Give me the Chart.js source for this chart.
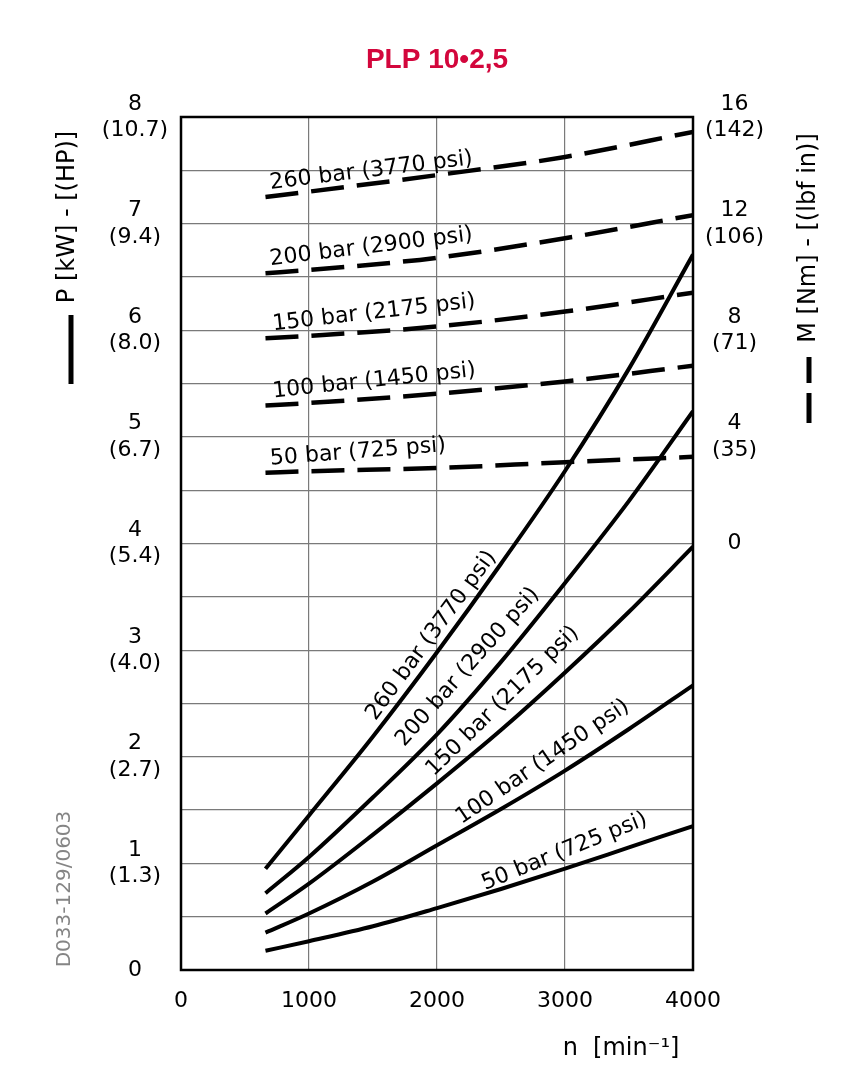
<!DOCTYPE html>
<html>
<head>
<meta charset="utf-8">
<script src="https://cdn.jsdelivr.net/npm/chart.js@4.4.1/dist/chart.umd.min.js"></script>
<style>
  html, body { margin: 0; padding: 0; background: #fff; }
  #wrap { position: relative; width: 849px; height: 1080px; }
</style>
</head>
<body>
<div id="wrap"><canvas id="c" width="849" height="1080"></canvas></div>
<script>
// ---------- DATA ----------
const chartTitle = 'PLP 10•2,5';
const pressureLabels = ['50 bar (725 psi)', '100 bar (1450 psi)', '150 bar (2175 psi)', '200 bar (2900 psi)', '260 bar (3770 psi)'];

// power curves (solid) – speed [min-1] vs power [kW]
const speedPower = [660, 1000, 1500, 2000, 2500, 3000, 3500, 4000];
const power50  = [0.18, 0.27, 0.41, 0.58, 0.76, 0.95, 1.15, 1.35];
const power100 = [0.35, 0.53, 0.83, 1.17, 1.51, 1.87, 2.26, 2.67];
const power150 = [0.53, 0.81, 1.27, 1.75, 2.25, 2.79, 3.36, 3.97];
const power200 = [0.72, 1.06, 1.62, 2.21, 2.89, 3.63, 4.40, 5.24];
const power260 = [0.95, 1.45, 2.19, 2.98, 3.81, 4.68, 5.64, 6.71];

// torque curves (dashed) – speed [min-1] vs torque [Nm]
const speedTorque = [660, 1000, 2000, 3000, 4000];
const torque50  = [2.65, 2.71, 2.83, 3.05, 3.25];
const torque100 = [5.18, 5.27, 5.62, 6.08, 6.67];
const torque150 = [7.70, 7.79, 8.14, 8.70, 9.41];
const torque200 = [10.14, 10.26, 10.72, 11.45, 12.32];
const torque260 = [13.00, 13.20, 13.82, 14.50, 15.44];

// tick labels
const speedTicks = [0, 1000, 2000, 3000, 4000];
const powerTicksKW = [0, 1, 2, 3, 4, 5, 6, 7, 8];
const powerTicksHP = ['', '(1.3)', '(2.7)', '(4.0)', '(5.4)', '(6.7)', '(8.0)', '(9.4)', '(10.7)'];
const torqueTicksNm = [0, 4, 8, 12, 16];
const torqueTicksLbfIn = ['', '(35)', '(71)', '(106)', '(142)'];

const powerSeries = [power50, power100, power150, power200, power260];
const torqueSeries = [torque50, torque100, torque150, torque200, torque260];

// ---------- LABEL PLACEMENT (data units + angle) ----------
const solidLabelPlace = [
  { x: 2997, y: 1.11, a: -22 },
  { x: 2826, y: 1.95, a: -34.3 },
  { x: 2513, y: 2.52, a: -44.4 },
  { x: 2240, y: 2.84, a: -48.4 },
  { x: 1956, y: 3.135, a: -53.6 }
];
const dashedLabelPlace = [
  { x: 700, a: -4.5 },
  { x: 720, a: -6 },
  { x: 720, a: -6.5 },
  { x: 700, a: -7 },
  { x: 700, a: -7 }
];

const FONT = '"DejaVu Sans", "Liberation Sans", sans-serif';

const datasets = [];
powerSeries.forEach((s, i) => {
  datasets.push({
    label: pressureLabels[i] + ' P',
    data: speedPower.map((n, k) => ({ x: n, y: s[k] })),
    yAxisID: 'y',
    borderColor: '#000',
    borderWidth: 4,
    pointRadius: 0,
    cubicInterpolationMode: 'monotone',
    fill: false
  });
});
torqueSeries.forEach((s, i) => {
  datasets.push({
    label: pressureLabels[i] + ' M',
    data: speedTorque.map((n, k) => ({ x: n, y: s[k] })),
    yAxisID: 'y1',
    borderColor: '#000',
    borderWidth: 4.5,
    borderDash: [33, 13],
    borderCapStyle: 'butt',
    pointRadius: 0,
    cubicInterpolationMode: 'monotone',
    fill: false
  });
});

const decor = {
  id: 'decor',
  afterDatasetsDraw(chart) {
    const { ctx, chartArea: ca, scales } = chart;
    const xs = scales.x, yp = scales.y, yt = scales.y1;
    ctx.save();
    // frame
    ctx.strokeStyle = '#000';
    ctx.lineWidth = 2.5;
    ctx.strokeRect(ca.left, ca.top, ca.right - ca.left, ca.bottom - ca.top);

    ctx.fillStyle = '#000';
    ctx.font = '22px ' + FONT;
    // solid curve labels
    ctx.textAlign = 'center';
    ctx.textBaseline = 'middle';
    solidLabelPlace.forEach((p, i) => {
      ctx.save();
      ctx.translate(xs.getPixelForValue(p.x), yp.getPixelForValue(p.y));
      ctx.rotate(p.a * Math.PI / 180);
      ctx.fillText(pressureLabels[i], 0, 0);
      ctx.restore();
    });
    // dashed curve labels
    ctx.textAlign = 'left';
    ctx.textBaseline = 'alphabetic';
    dashedLabelPlace.forEach((p, i) => {
      ctx.save();
      ctx.translate(xs.getPixelForValue(p.x), yt.getPixelForValue(torqueSeries[i][0]) - 8);
      ctx.rotate(p.a * Math.PI / 180);
      ctx.fillText(pressureLabels[i], 0, 0);
      ctx.restore();
    });
    ctx.restore();
  },
  afterDraw(chart) {
    const { ctx, chartArea: ca } = chart;
    ctx.save();
    // main title
    ctx.font = 'bold 28px "Liberation Sans", Arial, sans-serif';
    ctx.fillStyle = '#d3063c';
    ctx.textAlign = 'center';
    ctx.textBaseline = 'middle';
    ctx.fillText(chartTitle, (ca.left + ca.right) / 2, ca.top - 57);

    ctx.fillStyle = '#000';
    ctx.font = '24px ' + FONT;
    // left axis title
    ctx.save();
    ctx.translate(68, ca.top + 100);
    ctx.rotate(-Math.PI / 2);
    ctx.fillText('P [kW] - [(HP)]', 0, 0);
    ctx.restore();
    // right axis title
    ctx.save();
    ctx.translate(809, ca.top + 121);
    ctx.rotate(-Math.PI / 2);
    ctx.fillText('M [Nm] - [(lbf in)]', 0, 0);
    ctx.restore();
    // legend markers
    ctx.strokeStyle = '#000';
    ctx.lineWidth = 5;
    ctx.beginPath();
    ctx.moveTo(71, ca.top + 198); ctx.lineTo(71, ca.top + 267);
    ctx.moveTo(809, ca.top + 240); ctx.lineTo(809, ca.top + 266);
    ctx.moveTo(809, ca.top + 276); ctx.lineTo(809, ca.top + 306);
    ctx.stroke();
    // x axis title
    ctx.font = '24px ' + FONT;
    ctx.fillText('n  [min\u207B\u00B9]', ca.right - 72, ca.bottom + 79);
    // drawing code
    ctx.save();
    ctx.fillStyle = '#858585';
    ctx.font = '20px ' + FONT;
    ctx.translate(65, ca.bottom - 81);
    ctx.rotate(-Math.PI / 2);
    ctx.fillText('D033-129/0603', 0, 0);
    ctx.restore();
    ctx.restore();
  }
};

new Chart(document.getElementById('c'), {
  type: 'line',
  data: { datasets },
  options: {
    responsive: false,
    animation: false,
    devicePixelRatio: 1,
    layout: { padding: { top: 117, bottom: 0, left: 0, right: 0 } },
    plugins: { legend: { display: false }, tooltip: { enabled: false }, title: { display: false } },
    scales: {
      x: {
        type: 'linear',
        min: speedTicks[0],
        max: speedTicks[speedTicks.length - 1],
        afterFit(s) { s.height = 110; },
        afterBuildTicks(s) { s.ticks = speedTicks.map(v => ({ value: v })); },
        ticks: {
          color: '#000', font: { family: FONT, size: 22 }, padding: 18, maxRotation: 0, autoSkip: false,
          callback(v) { return String(v); }
        },
        grid: { color: '#7a7a7a', lineWidth: 1.2, drawTicks: false },
        border: { display: false }
      },
      y: {
        position: 'left',
        min: 0, max: 8,
        afterFit(s) { s.width = 181; },
        ticks: {
          stepSize: 0.5,
          autoSkip: false,
          color: '#000',
          crossAlign: 'center',
          padding: 13,
          font: { family: FONT, size: 22, lineHeight: 1.2 },
          callback(v) {
            const i = powerTicksKW.indexOf(v);
            if (i < 0) return '';
            return i === 0 ? String(v) : [String(v), powerTicksHP[i]];
          }
        },
        grid: { color: '#7a7a7a', lineWidth: 1.2, drawTicks: false },
        border: { display: false }
      },
      y1: {
        position: 'right',
        min: -16, max: 16,
        afterFit(s) { s.width = 156; },
        ticks: {
          stepSize: 4,
          autoSkip: false,
          color: '#000',
          crossAlign: 'center',
          padding: 12,
          font: { family: FONT, size: 22, lineHeight: 1.2 },
          callback(v) {
            const i = torqueTicksNm.indexOf(v);
            if (i < 0) return '';
            return i === 0 ? String(v) : [String(v), torqueTicksLbfIn[i]];
          }
        },
        grid: { display: false, drawTicks: false },
        border: { display: false }
      }
    }
  },
  plugins: [decor]
});
</script>
</body>
</html>
